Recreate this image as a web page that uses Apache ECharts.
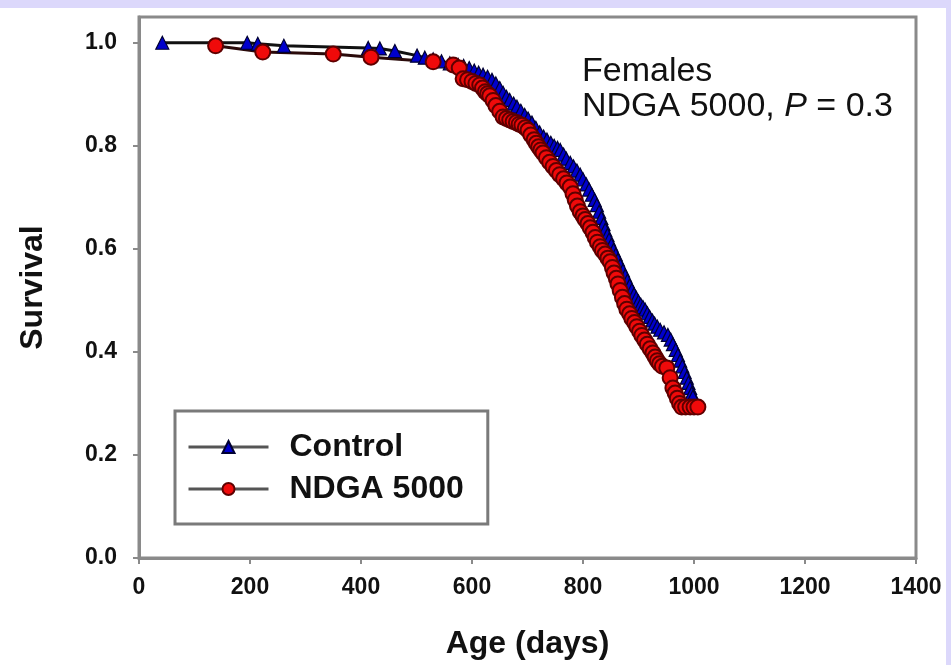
<!DOCTYPE html>
<html>
<head>
<meta charset="utf-8">
<script src="https://cdn.jsdelivr.net/npm/echarts@6/dist/echarts.min.js"></script>
<style>
html,body{margin:0;padding:0;background:#fff;}
#chart{width:951px;height:665px;}
</style>
</head>
<body>
<div id="chart"></div>
<script>
// ---- data ----
const seriesNames = ['Control', 'NDGA 5000'];
const controlAge = [42,195,214,261,413,434,461,501,515,530,545,560,575,585,595,604,612,620,628,636,643,650,656,662,668,675,681,688,695,701,708,715,722,729,735,742,748,754,759,765,770,777,783,789,795,800,806,811,816,821,825,829,833,837,840,844,847,851,855,859,863,867,872,876,880,884,888,892,896,900,904,908,912,916,920,925,929,934,939,946,953,958,962,967,971,975,979,983,987,990,993,996,998];
const controlSurv = [1.0,1.0,0.998,0.994,0.99,0.989,0.984,0.975,0.971,0.968,0.964,0.96,0.957,0.955,0.951,0.946,0.942,0.938,0.934,0.928,0.921,0.912,0.903,0.895,0.889,0.882,0.876,0.868,0.86,0.853,0.845,0.835,0.826,0.818,0.812,0.806,0.80,0.796,0.792,0.783,0.775,0.767,0.76,0.752,0.744,0.735,0.725,0.715,0.705,0.695,0.685,0.672,0.66,0.648,0.637,0.627,0.618,0.608,0.598,0.589,0.579,0.568,0.558,0.548,0.538,0.529,0.52,0.512,0.505,0.498,0.492,0.487,0.482,0.475,0.468,0.461,0.455,0.449,0.443,0.438,0.433,0.424,0.415,0.404,0.394,0.383,0.372,0.361,0.35,0.34,0.33,0.32,0.313];
const ndgaAge = [138,223,350,418,530,566,577,584,592,600,607,614,619,624,628,632,638,643,650,656,662,668,674,680,685,690,696,701,706,712,716,720,724,728,734,740,746,752,758,765,771,777,782,786,790,795,800,804,809,813,818,822,826,831,835,840,845,849,853,856,860,863,867,871,875,879,884,888,893,897,902,906,911,916,921,926,930,934,938,943,951,957,962,966,970,974,978,985,993,1000,1007];
const ndgaSurv = [0.994,0.982,0.978,0.972,0.963,0.957,0.951,0.93,0.928,0.925,0.921,0.918,0.912,0.905,0.901,0.897,0.888,0.878,0.867,0.856,0.853,0.85,0.847,0.845,0.842,0.84,0.835,0.83,0.821,0.812,0.805,0.798,0.792,0.786,0.777,0.768,0.76,0.752,0.744,0.736,0.728,0.72,0.707,0.695,0.683,0.672,0.664,0.657,0.649,0.641,0.632,0.622,0.613,0.604,0.597,0.59,0.582,0.575,0.564,0.553,0.543,0.532,0.519,0.506,0.494,0.483,0.474,0.465,0.457,0.449,0.44,0.432,0.423,0.415,0.406,0.398,0.39,0.383,0.377,0.372,0.369,0.35,0.33,0.32,0.31,0.30,0.293,0.293,0.293,0.293,0.293];
const xTicks = [0,200,400,600,800,1000,1200,1400];
const yTicks = [0.0,0.2,0.4,0.6,0.8,1.0];
const yMax = 1.05;
const annotationLine1 = 'Females';
const annotationLine2a = 'NDGA 5000, ';
const annotationLine2P = 'P';
const annotationLine2b = ' = 0.3';
const xTitle = 'Age (days)';
const yTitle = 'Survival';

const FONT = '"Liberation Sans", Arial, sans-serif';
const pair = (a, b) => a.map((v, i) => [v, b[i]]);

const chart = echarts.init(document.getElementById('chart'), null, {renderer: 'canvas'});
chart.setOption({
  backgroundColor: '#ffffff',
  animation: false,
  grid: {left: 139, right: 35, top: 17, bottom: 107, show: true, borderColor: '#8a8a8a', borderWidth: 3, backgroundColor: 'transparent'},
  legend: {
    orient: 'vertical', left: 175, top: 411,
    data: seriesNames,
    itemWidth: 80, itemHeight: 15, itemGap: 10,
    padding: [20, 24, 19, 12],
    borderColor: '#7a7a7a', borderWidth: 3, backgroundColor: '#ffffff',
    lineStyle: {color: '#555555', width: 3},
    textStyle: {fontFamily: FONT, fontSize: 32, fontWeight: 'bold', color: '#111', padding: [0, 0, 0, 16]}
  },
  xAxis: {
    type: 'value', min: xTicks[0], max: xTicks[xTicks.length - 1], interval: 200,
    name: xTitle, nameLocation: 'middle', nameGap: 70,
    nameTextStyle: {fontFamily: FONT, fontSize: 32, fontWeight: 'bold', color: '#111'},
    axisLine: {lineStyle: {color: '#8a8a8a', width: 3}},
    axisTick: {show: true, inside: false, length: 6, lineStyle: {color: '#8a8a8a', width: 2}},
    axisLabel: {fontFamily: FONT, fontSize: 23, fontWeight: 'bold', color: '#111', margin: 18,
      formatter: v => String(v)},
    splitLine: {show: false}
  },
  yAxis: {
    type: 'value', min: yTicks[0], max: yMax,
    name: yTitle, nameLocation: 'middle', nameGap: 90, nameRotate: 90,
    nameTextStyle: {fontFamily: FONT, fontSize: 32, fontWeight: 'bold', color: '#111'},
    axisLine: {show: true, lineStyle: {color: '#8a8a8a', width: 3}},
    axisTick: {show: true, inside: false, length: 6, customValues: yTicks, lineStyle: {color: '#8a8a8a', width: 2}},
    axisLabel: {fontFamily: FONT, fontSize: 23, fontWeight: 'bold', color: '#111', margin: 22,
      customValues: yTicks, formatter: v => Number(v).toFixed(1)},
    splitLine: {show: false}
  },
  series: [
    {
      name: seriesNames[0], type: 'line', data: pair(controlAge, controlSurv),
      symbol: 'triangle', symbolSize: 13, showAllSymbol: true,
      lineStyle: {color: '#111111', width: 3},
      itemStyle: {color: '#0000cc', borderColor: '#000033', borderWidth: 1.2}
    },
    {
      name: seriesNames[1], type: 'line', data: pair(ndgaAge, ndgaSurv),
      symbol: 'circle', symbolSize: 15, showAllSymbol: true,
      lineStyle: {color: '#2a0a0a', width: 3},
      itemStyle: {color: '#f00a0a', borderColor: '#5e0000', borderWidth: 2}
    }
  ],
  graphic: [
    {type: 'rect', left: 0, top: 0, shape: {width: 951, height: 8}, style: {fill: '#dcd8fb'}, z: 100},
    {type: 'rect', left: 946, top: 0, shape: {width: 5, height: 665}, style: {fill: '#dcd8fb'}, z: 100},
    {type: 'text', left: 582, top: 55, z: 100,
      style: {text: annotationLine1, fontFamily: FONT, fontSize: 34, fill: '#111'}},
    {type: 'text', left: 582, top: 90, z: 100,
      style: {
        text: annotationLine2a + '{i|' + annotationLine2P + '}' + annotationLine2b,
        fontFamily: FONT, fontSize: 34, fill: '#111',
        rich: {i: {fontFamily: FONT, fontSize: 34, fontStyle: 'italic', fill: '#111'}}
      }}
  ]
});
</script>
</body>
</html>
